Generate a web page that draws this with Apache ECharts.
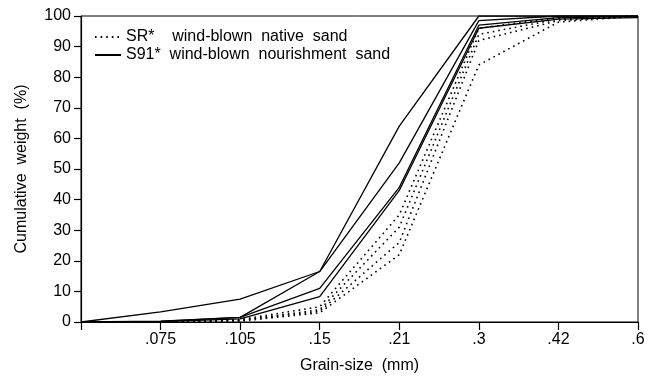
<!DOCTYPE html>
<html>
<head>
<meta charset="utf-8">
<script src="https://cdn.jsdelivr.net/npm/echarts@6/dist/echarts.min.js"></script>
<style>
html,body{margin:0;padding:0;background:#fff;}
#chart{width:659px;height:379px;}
</style>
</head>
<body>
<div id="chart"></div>
<script>
// Grain-size categories (mm); first is the unlabeled origin
var categories = ['', '.075', '.105', '.15', '.21', '.3', '.42', '.6'];
var yTicks = [0, 10, 20, 30, 40, 50, 60, 70, 80, 90, 100];

// S91* wind-blown nourishment sand (solid)
var solidA = [0, 3.3, 7.5, 16.5, 64, 100, 100, 100];
var solidB = [0, 0.3, 1.5, 16.5, 52, 98.5, 100, 100];
var solidC = [0, 0.2, 1.5, 11, 44, 97, 99.5, 99.8];
var solidD = [0, 0.1, 1, 8.3, 43, 96, 99, 99.5];

// SR* wind-blown native sand (dotted)
var dottedA = [0, 0, 0.8, 5, 35, 96, 99.5, 100];
var dottedB = [0, 0, 0.6, 4, 31, 94, 99, 100];
var dottedC = [0, 0, 0.5, 3.5, 26, 92, 98.5, 100];
var dottedD = [0, 0, 0.3, 3, 22, 84, 98, 100];

var nameSR = 'SR*    wind-blown  native  sand';
var nameS91 = 'S91*  wind-blown  nourishment  sand';

var FONT = 'Liberation Sans, Arial, Helvetica, sans-serif';

function solid(data) {
  return {
    name: nameS91, type: 'line', data: data, symbol: 'none', silent: true,
    color: '#000',
    lineStyle: { color: '#000', width: 1.3, type: 'solid' },
    animation: false
  };
}
function dotted(data) {
  return {
    name: nameSR, type: 'line', data: data, symbol: 'none', silent: true,
    color: '#000',
    lineStyle: { color: '#000', width: 1.6, type: [1.6, 4] },
    animation: false
  };
}

var chart = echarts.init(document.getElementById('chart'), null, { renderer: 'canvas' });
chart.setOption({
  backgroundColor: '#fff',
  animation: false,
  textStyle: { fontFamily: FONT, color: '#000' },
  grid: {
    left: 81, right: 21, top: 16, bottom: 48,
    show: true, borderColor: '#000', borderWidth: 1, backgroundColor: 'transparent'
  },
  legend: {
    data: [nameSR, nameS91],
    orient: 'vertical',
    left: 89, top: 24,
    itemWidth: 26, itemHeight: 14, itemGap: 2,
    itemStyle: { opacity: 0 },
    textStyle: { fontFamily: FONT, fontSize: 16, color: '#000' },
    selectedMode: false
  },
  xAxis: {
    type: 'category',
    data: categories,
    boundaryGap: false,
    name: 'Grain-size  (mm)',
    nameLocation: 'middle',
    nameGap: 36,
    nameTextStyle: { fontFamily: FONT, fontSize: 16, color: '#000' },
    axisLine: { lineStyle: { color: '#000', width: 1.2 } },
    axisTick: { show: true, length: 8, inside: false, alignWithLabel: true, lineStyle: { color: '#000', width: 1.2 } },
    axisLabel: { fontFamily: FONT, fontSize: 16, color: '#000', margin: 10, interval: 0 },
    splitLine: { show: false }
  },
  yAxis: {
    type: 'value',
    min: yTicks[0], max: yTicks[yTicks.length - 1], interval: 10,
    name: 'Cumulative  weight  (%)',
    nameLocation: 'middle',
    nameGap: 51,
    nameRotate: 90,
    nameTextStyle: { fontFamily: FONT, fontSize: 16, color: '#000' },
    axisLine: { show: true, lineStyle: { color: '#000', width: 1.2 } },
    axisTick: { show: true, length: 7, lineStyle: { color: '#000', width: 1.2 } },
    axisLabel: { fontFamily: FONT, fontSize: 16, color: '#000', margin: 10 },
    splitLine: { show: false }
  },
  series: [
    dotted(dottedA), dotted(dottedB), dotted(dottedC), dotted(dottedD),
    solid(solidA), solid(solidB), solid(solidC), solid(solidD)
  ]
});
</script>
</body>
</html>
